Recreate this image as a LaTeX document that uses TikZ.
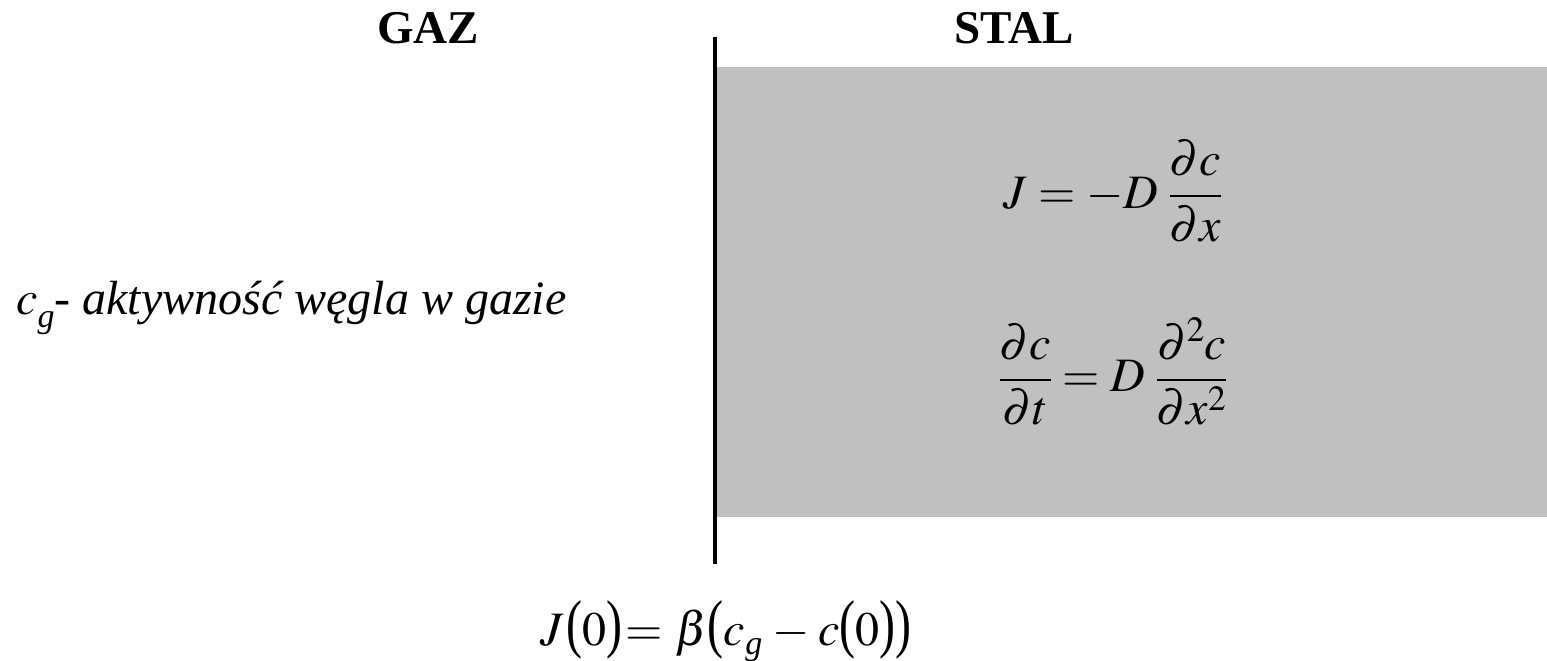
\documentclass[tikz,border=0pt]{standalone}
\usepackage{fix-cm}
\usepackage{graphicx}
\usepackage{mathptmx}
\usepackage[no-math]{fontspec}
\setmainfont{Liberation Serif}
\definecolor{steelgrey}{HTML}{C0C0C0}
\newcommand{\subg}{\raisebox{-0.28em}{\fontsize{34}{34}\selectfont\itshape g}}
\newcommand{\subgb}{\raisebox{-0.2em}{\fontsize{34}{34}\selectfont\itshape g}}
\newcommand{\lp}{\mbox{\scalebox{1}[1.35]{(}}}
\newcommand{\rp}{\mbox{\scalebox{1}[1.35]{)}}}
\tikzset{
  heading/.style={font=\fontsize{47}{52}\selectfont\bfseries, inner sep=0pt},
  eqtext/.style={font=\fontsize{48}{56}\selectfont, inner sep=0pt},
  wall/.style={line width=4.5pt, line cap=butt},
}
\begin{document}
\begin{tikzpicture}[x=1pt,y=-1pt]
\useasboundingbox (0,0) rectangle (1547,661);
\fill[steelgrey] (717,67) rectangle (1547,517);
\coordinate (wtop) at (715,37);
\coordinate (wbot) at (715,564);
\draw[wall] (wtop) -- (wbot);
\node[heading, anchor=base] (gaz) at (428,44) {GAZ};
\node[heading, anchor=base] (stal) at (1014,44) {STAL};
\node[eqtext, anchor=base west] (cg) at (16,314)
  {$c$\subg\textit{- aktywność węgla w gazie}};
\node[eqtext] (fick1) at (1113,191) {$\displaystyle J = -D\;\frac{\partial c}{\partial x}$};
\node[eqtext] (fick2) at (1113,372) {$\displaystyle \frac{\partial c}{\partial t} = D\;\frac{\partial^2 c}{\partial x^2}$};
\node[eqtext, anchor=base west] (bc) at (540,645)
  {$J\mkern1mu\lp0\rp\mkern1mu{=}\mkern5mu\beta\lp c\mbox{\subgb}\mkern4mu{-}\mkern3mu c\lp0\rp\rp$};
\end{tikzpicture}
\end{document}
